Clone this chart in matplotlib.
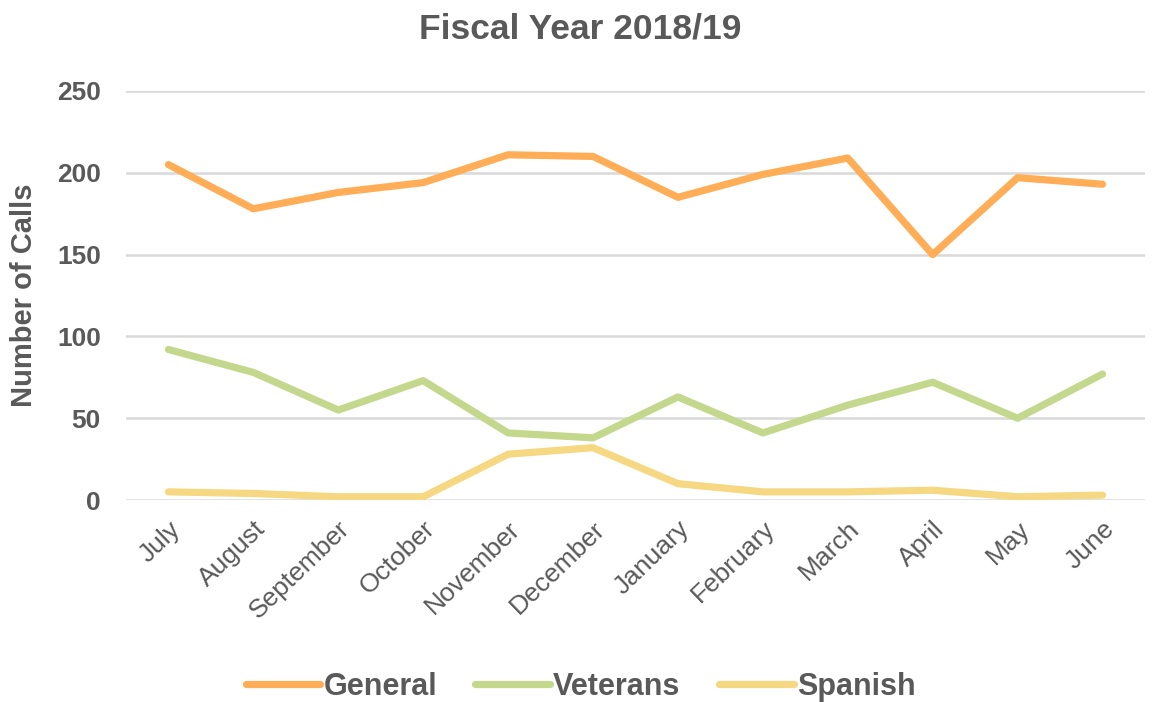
import matplotlib
matplotlib.use("Agg")
import matplotlib.pyplot as plt
import numpy as np

months = ["July", "August", "September", "October", "November", "December",
          "January", "February", "March", "April", "May", "June"]
general = [205, 178, 188, 194, 211, 210, 185, 199, 209, 150, 197, 193]
veterans = [92, 78, 55, 73, 41, 38, 63, 41, 58, 72, 50, 77]
spanish = [5, 4, 2, 2, 28, 32, 10, 5, 5, 6, 2, 3]
y_ticks = [0, 50, 100, 150, 200, 250]

series = [
    ("General", general, "#FFAD57"),
    ("Veterans", veterans, "#C3D88C"),
    ("Spanish", spanish, "#F6D883"),
]

TXT = "#595959"
plt.rcParams["font.family"] = ["Liberation Sans", "DejaVu Sans"]

fig = plt.figure(figsize=(11.61, 7.02), dpi=100)
ax = fig.add_axes([0.1085, 0.2877, 0.8777, 0.5827])

x = np.arange(len(months))
for name, vals, col in series:
    ax.plot(x, vals, color=col, lw=5.2, label=name,
            solid_capstyle="round", solid_joinstyle="round")

ax.set_xlim(-0.5, len(months) - 0.5)
ax.set_ylim(0, 250)
ax.set_yticks(y_ticks)
ax.yaxis.grid(True, color="#D9D9D9", lw=1.8)
ax.set_axisbelow(True)
for s in ax.spines.values():
    s.set_visible(False)
ax.tick_params(axis="both", length=0)
ax.tick_params(axis="y", pad=18, labelsize=19, labelcolor=TXT)
for lab in ax.get_yticklabels():
    lab.set_fontweight("bold")

ax.set_xticks(x)
ax.set_xticklabels(months, rotation=44, ha="right", va="top",
                   rotation_mode="anchor", fontsize=19, color=TXT)
ax.tick_params(axis="x", pad=12)

ax.set_ylabel("Number of Calls", fontsize=21, fontweight="bold", color=TXT)
ax.yaxis.set_label_coords(-0.086, 0.5)

fig.text(0.5, 1 - 29 / 702, "Fiscal Year 2018/19", ha="center", va="center",
         fontsize=25.5, fontweight="bold", color=TXT)

leg = fig.legend(loc="center", bbox_to_anchor=(0.5, 1 - 687 / 702), ncol=3,
                 frameon=False, handlelength=2.45, handletextpad=0.1,
                 columnspacing=1.25, prop={"size": 22, "weight": "bold"})
for t in leg.get_texts():
    t.set_color(TXT)

fig.savefig("out.png", dpi=100)
